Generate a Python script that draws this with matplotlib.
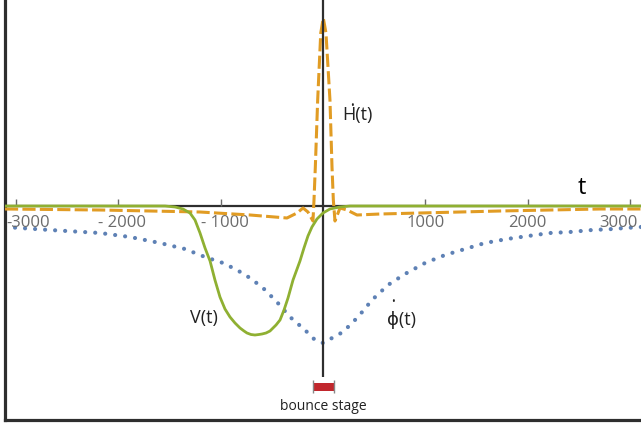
import matplotlib.pyplot as plt

# time axis ticks and their printed labels
tick_t = [-3000, -2000, -1000, 1000, 2000, 3000]
tick_labels = ["-3000", "- 2000", "- 1000", "1000", "2000", "3000"]

# phi-dot (blue dotted)
phi_t = [-3108, -2668, -2179, -1886, -1593, -1349, -1153, -977, -840, -713,
         -586, -450, -322, -176, -78, 0, 195, 342, 479, 635, 801, 997, 1193,
         1388, 1583, 1798, 2004, 2219, 2414, 2629, 2834, 2952, 3108]
phi_v = [-21, -24, -27, -31, -37, -43, -51, -57, -64, -72,
         -82, -96, -111, -124, -134, -137, -126, -111, -94, -79, -68, -57, -49,
         -43, -37, -33, -30, -27, -26, -24, -23, -22, -21]

# V(t) (green solid)
v_t = [-3108, -1544, -1446, -1368, -1300, -1251, -1202, -1153, -1104, -1056,
       -1007, -958, -909, -860, -811, -772, -743, -704, -665, -626, -596,
       -557, -518, -459, -420, -381, -342, -293, -225, -186, -147, -108, -59,
       0, 68, 166, 264, 3108]
v_v = [0, 0, -1, -3, -7, -14, -27, -42, -55, -74,
       -91, -103, -111, -117, -122, -125, -127, -128.5, -129, -128.5, -128,
       -127, -125, -119, -114, -104, -92, -74, -55, -42, -30, -21, -13,
       -7, -3, -1, 0, 0]

# H-dot (orange dashed)
h_t = [-3108, -2179, -1202, -713, -352, -254, -195, -147, -98, -88, -75, -52,
       -22, 3, 29, 68, 88, 101, 117, 166, 235, 332, 557, 948, 1730, 2707, 3108]
h_v = [-3, -4, -6, -9, -12, -7, -2, -6, -15, 6, 39, 106,
       173, 188, 173, 106, 39, 6, -15, -2, -4, -9, -8, -7, -5, -3, -3]

bounce = [-100, 105]

blue = "#5E81B5"
orange = "#E19C24"
green = "#8FB032"
dark = "#2E2E2E"
grey = "#6B6B6B"

plt.rcParams['font.family'] = ['Open Sans', 'DejaVu Sans']

fig = plt.figure(figsize=(6.41, 4.28), dpi=100)
ax = fig.add_axes([5 / 641, 8 / 428, 636 / 641, 420 / 428])
ax.set_xlim(-3108, 3108)
ax.set_ylim(-214, 206)

for s in ["top", "right"]:
    ax.spines[s].set_visible(False)
for s in ["left", "bottom"]:
    ax.spines[s].set_linewidth(2.3)
    ax.spines[s].set_color(dark)
ax.set_xticks([])
ax.set_yticks([])

# axes through the origin
ax.axhline(0, color=dark, lw=1.6, zorder=1)
ax.vlines(tick_t, 0, 7, color=grey, lw=1.0, zorder=1)
for t, lab in zip(tick_t, tick_labels):
    if t == tick_t[0]:
        ax.text(-3092, -17, lab, ha="left", va="center", fontsize=12, color=grey)
    elif t == tick_t[-1]:
        ax.text(3075, -17, lab, ha="right", va="center", fontsize=12, color=grey)
    else:
        ax.text(t + 40 * (t < 0), -17, lab, ha="center", va="center",
                fontsize=12, color=grey)

ax.plot(phi_t, phi_v, color=blue, lw=3.0, linestyle=(0, (0.01, 2.4)),
        dash_capstyle="round", zorder=2)
ax.plot(h_t, h_v, color=orange, lw=2.2, linestyle=(0, (4.3, 1.4)), zorder=3)
ax.vlines(0, -171, 206, color=dark, lw=1.6, zorder=4)
ax.plot(v_t, v_v, color=green, lw=2.0, zorder=5)

# curve labels
ax.text(2531, 18, "t", ha="center", va="center", fontsize=17, color="black")
ax.text(332, 91, "H(t)", ha="center", va="center", fontsize=13, color="#222222")
ax.text(288, 99, "•", ha="center", va="center", fontsize=7, color="#222222")
ax.text(-1163, -112, "V(t)", ha="center", va="center", fontsize=13, color="#222222")
ax.text(772, -114, "ϕ(t)", ha="center", va="center", fontsize=13, color="#222222")
ax.text(684, -96, "•", ha="center", va="center", fontsize=7, color="#222222")

# bounce stage marker
ax.barh(-181, bounce[1] - bounce[0], left=bounce[0], height=8,
        color="#C1272D", zorder=3)
ax.vlines(bounce, -187, -174, color="#888888", lw=1.0, zorder=4)
ax.text(sum(bounce) / 2, -201, "bounce stage", ha="center", va="center",
        fontsize=10, color="#222222")

fig.savefig("out.png", dpi=100)
